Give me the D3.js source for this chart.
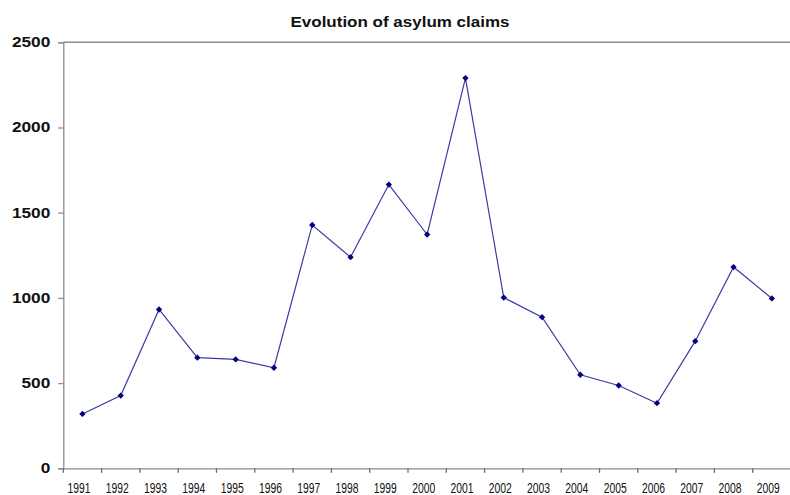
<!DOCTYPE html>
<html>
<head>
<meta charset="utf-8">
<script src="https://cdn.jsdelivr.net/npm/d3@7/dist/d3.min.js"></script>
<style>
  html, body { margin: 0; padding: 0; background: #fff; }
  svg { display: block; }
</style>
</head>
<body>
<svg id="chart" width="790" height="495"></svg>
<script>
const years = ["1991","1992","1993","1994","1995","1996","1997","1998","1999","2000",
               "2001","2002","2003","2004","2005","2006","2007","2008","2009"];
const claims = [319, 427, 932, 649, 639, 590, 1428, 1239, 1665, 1372,
                2290, 1002, 887, 549, 486, 382, 746, 1181, 997];
const yTicks = [0, 500, 1000, 1500, 2000, 2500];
const title = "Evolution of asylum claims";

const svg = d3.select("#chart");
const mLeft = 63.3, mRight = 791, mTop = 42.3, mBottom = 468.3;

const x = d3.scaleBand().domain(years).range([mLeft, mRight]).padding(0);
const y = d3.scaleLinear().domain([0, 2500]).range([mBottom, mTop]);

// top border line
svg.append("line")
  .attr("x1", mLeft).attr("x2", 790)
  .attr("y1", y(2500)).attr("y2", y(2500))
  .attr("stroke", "#8c8c8c").attr("stroke-width", 1.6);

// Y axis
const yAxis = svg.append("g")
  .attr("transform", `translate(${mLeft},0)`)
  .call(d3.axisLeft(y).tickValues(yTicks).tickSize(5).tickPadding(8).tickFormat(d3.format("d")));
yAxis.select(".domain").attr("stroke", "#8c8c8c").attr("stroke-width", 1.3);
yAxis.selectAll(".tick line").attr("stroke", "#8c8c8c").attr("stroke-width", 1.3);
yAxis.selectAll(".tick text")
  .attr("fill", "#111")
  .style("font-family", "Arial, 'Liberation Sans', sans-serif")
  .style("font-size", "14px")
  .style("font-weight", "bold")
  .each(function(d) {
    const s = String(d);
    d3.select(this).attr("textLength", s.length * 9.6).attr("lengthAdjust", "spacingAndGlyphs");
  });

// X axis line and labels
const xAxis = svg.append("g")
  .attr("transform", `translate(0,${mBottom})`)
  .call(d3.axisBottom(x).tickSize(0).tickPadding(14));
xAxis.select(".domain").attr("stroke", "#8c8c8c").attr("stroke-width", 1.3);
xAxis.selectAll(".tick text")
  .attr("fill", "#111")
  .attr("x", -3.5)
  .style("font-family", "Arial, 'Liberation Sans', sans-serif")
  .style("font-size", "15px")
  .attr("textLength", 23).attr("lengthAdjust", "spacingAndGlyphs");

// X tick marks between categories
const boundaries = years.map(d => x(d)).concat([x.range()[1]]);
svg.append("g").selectAll("line")
  .data(boundaries)
  .join("line")
  .attr("x1", d => d).attr("x2", d => d)
  .attr("y1", mBottom).attr("y2", mBottom + 4.5)
  .attr("stroke", "#6a6a6a").attr("stroke-width", 1.3);

// Title
svg.append("text")
  .attr("x", 400).attr("y", 27)
  .attr("text-anchor", "middle")
  .attr("fill", "#111")
  .style("font-family", "Arial, 'Liberation Sans', sans-serif")
  .style("font-size", "15px")
  .style("font-weight", "bold")
  .attr("textLength", 219).attr("lengthAdjust", "spacingAndGlyphs")
  .text(title);

// Line
const data = years.map((yr, i) => ({ yr, v: claims[i] }));
const line = d3.line()
  .x(d => x(d.yr) + x.bandwidth() / 2)
  .y(d => y(d.v));
svg.append("path")
  .datum(data)
  .attr("fill", "none")
  .attr("stroke", "#3b3ba6")
  .attr("stroke-width", 1.2)
  .attr("d", line);

// Markers
svg.append("g").selectAll("path.mk")
  .data(data)
  .join("path")
  .attr("class", "mk")
  .attr("transform", d => `translate(${x(d.yr) + x.bandwidth() / 2},${y(d.v)}) rotate(45)`)
  .attr("d", d3.symbol().type(d3.symbolSquare).size(20))
  .attr("fill", "#000080");
</script>
</body>
</html>
